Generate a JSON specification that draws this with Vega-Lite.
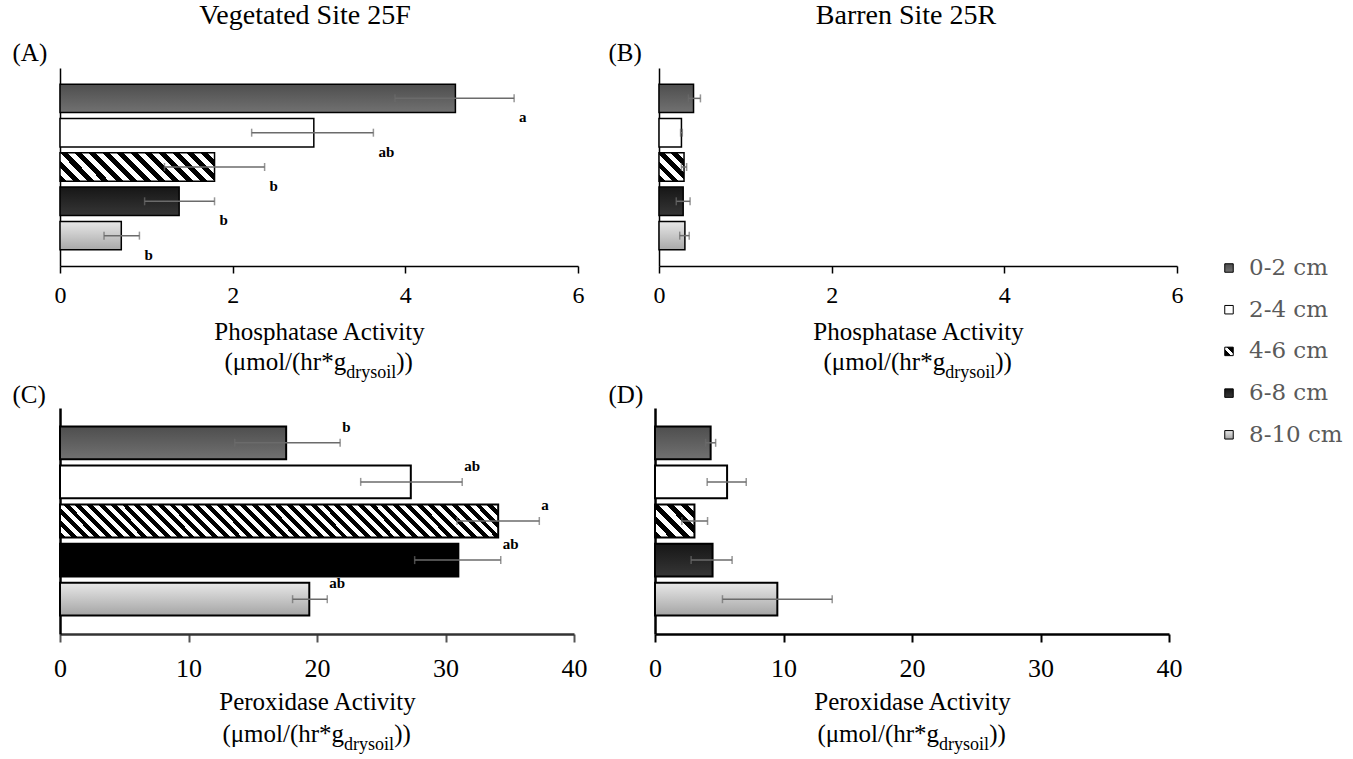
{
  "$schema": "https://vega.github.io/schema/vega-lite/v6.json",
  "padding": {"left": 12, "top": 2, "right": 0, "bottom": 0},
  "background": "white",
  "config": {"view": {"stroke": null}, "axis": {"grid": false}, "font": "Liberation Serif"},
  "datasets": {
    "A": [
      {"depth": "0-2 cm", "value": 4.58, "lo": 3.88, "hi": 5.26, "letter": "a"},
      {"depth": "2-4 cm", "value": 2.94, "lo": 2.22, "hi": 3.63, "letter": "ab"},
      {"depth": "4-6 cm", "value": 1.79, "lo": 1.21, "hi": 2.37, "letter": "b"},
      {"depth": "6-8 cm", "value": 1.38, "lo": 0.98, "hi": 1.79, "letter": "b"},
      {"depth": "8-10 cm", "value": 0.71, "lo": 0.51, "hi": 0.92, "letter": "b"}
    ],
    "B": [
      {"depth": "0-2 cm", "value": 0.40, "lo": 0.34, "hi": 0.48},
      {"depth": "2-4 cm", "value": 0.26, "lo": 0.25, "hi": 0.27},
      {"depth": "4-6 cm", "value": 0.29, "lo": 0.26, "hi": 0.32},
      {"depth": "6-8 cm", "value": 0.28, "lo": 0.20, "hi": 0.36},
      {"depth": "8-10 cm", "value": 0.30, "lo": 0.24, "hi": 0.35}
    ],
    "C": [
      {"depth": "0-2 cm", "value": 17.6, "lo": 13.6, "hi": 21.8, "letter": "b"},
      {"depth": "2-4 cm", "value": 27.3, "lo": 23.4, "hi": 31.3, "letter": "ab"},
      {"depth": "4-6 cm", "value": 34.1, "lo": 30.9, "hi": 37.3, "letter": "a"},
      {"depth": "6-8 cm", "value": 31.0, "lo": 27.6, "hi": 34.3, "letter": "ab"},
      {"depth": "8-10 cm", "value": 19.4, "lo": 18.1, "hi": 20.8, "letter": "ab"}
    ],
    "D": [
      {"depth": "0-2 cm", "value": 4.33, "lo": 3.94, "hi": 4.72},
      {"depth": "2-4 cm", "value": 5.61, "lo": 4.06, "hi": 7.10},
      {"depth": "4-6 cm", "value": 3.07, "lo": 2.09, "hi": 4.09},
      {"depth": "6-8 cm", "value": 4.48, "lo": 2.81, "hi": 6.00},
      {"depth": "8-10 cm", "value": 9.52, "lo": 5.25, "hi": 13.79}
    ],
    "L": [
      {"depth": "0-2 cm", "order": 1}, {"depth": "2-4 cm", "order": 2}, {"depth": "4-6 cm", "order": 3}, {"depth": "6-8 cm", "order": 4}, {"depth": "8-10 cm", "order": 5}
    ]
  },
  "hconcat": [
    {
      "vconcat": [
        {
          "hconcat": [
            {
              "width": 518, "height": 198,
              "data": {"name": "A"},
              "title": {"text": "Vegetated Site 25F", "font": "Liberation Serif", "fontSize": 28, "fontWeight": "normal", "color": "black", "anchor": "middle", "frame": "group", "dx": -14, "offset": 10},
              "encoding": {
                "y": {"field": "depth", "type": "nominal", "sort": ["0-2 cm", "2-4 cm", "4-6 cm", "6-8 cm", "8-10 cm"], "scale": {"paddingInner": 0.17, "paddingOuter": 0.47},
                  "axis": {"title": "(A)", "titleAngle": 0, "titleAlign": "left", "titleBaseline": "middle", "titleX": -48, "titleY": -16, "titleFont": "Liberation Serif", "titleFontSize": 25, "titleFontWeight": "normal", "titleColor": "black", "labels": false, "ticks": false, "domainColor": "black", "domainWidth": 1.5}}
              },
              "layer": [
                {
                  "mark": {"type": "bar", "stroke": "black", "strokeWidth": 1.5},
                  "encoding": {
                    "x": {"field": "value", "type": "quantitative", "title": "Phosphatase Activity", "scale": {"domain": [0, 6], "nice": false},
                      "axis": {"values": [0, 2, 4, 6], "format": "d", "tickSize": 7, "tickWidth": 1.5, "tickColor": "black", "domainColor": "black", "domainWidth": 1.5, "labelFont": "Liberation Serif", "labelFontSize": 24, "labelColor": "black", "labelPadding": 10, "labelFlush": false, "title": "Phosphatase Activity", "titleFont": "Liberation Serif", "titleFontSize": 25, "titleFontWeight": "normal", "titleColor": "black", "titleBaseline": "alphabetic", "titleY": 73}},
                    "fill": {"condition": [
                      {"test": "datum.depth === '0-2 cm'", "value": {"gradient": "linear", "x1": 0, "y1": 0, "x2": 0, "y2": 1, "stops": [{"offset": 0, "color": "#4e4e4e"}, {"offset": 1, "color": "#717171"}]}},
                      {"test": "datum.depth === '4-6 cm'", "value": {"gradient": "linear", "x1": 0, "y1": 1, "x2": 1.1448, "y2": 0.7903, "stops": [
                        {"offset": 0, "color": "#000"}, {"offset": 0.0385, "color": "#000"}, {"offset": 0.0385, "color": "#fff"}, {"offset": 0.0769, "color": "#fff"},
                        {"offset": 0.0769, "color": "#000"}, {"offset": 0.1154, "color": "#000"}, {"offset": 0.1154, "color": "#fff"}, {"offset": 0.1538, "color": "#fff"},
                        {"offset": 0.1538, "color": "#000"}, {"offset": 0.1923, "color": "#000"}, {"offset": 0.1923, "color": "#fff"}, {"offset": 0.2308, "color": "#fff"},
                        {"offset": 0.2308, "color": "#000"}, {"offset": 0.2692, "color": "#000"}, {"offset": 0.2692, "color": "#fff"}, {"offset": 0.3077, "color": "#fff"},
                        {"offset": 0.3077, "color": "#000"}, {"offset": 0.3462, "color": "#000"}, {"offset": 0.3462, "color": "#fff"}, {"offset": 0.3846, "color": "#fff"},
                        {"offset": 0.3846, "color": "#000"}, {"offset": 0.4231, "color": "#000"}, {"offset": 0.4231, "color": "#fff"}, {"offset": 0.4615, "color": "#fff"},
                        {"offset": 0.4615, "color": "#000"}, {"offset": 0.5, "color": "#000"}, {"offset": 0.5, "color": "#fff"}, {"offset": 0.5385, "color": "#fff"},
                        {"offset": 0.5385, "color": "#000"}, {"offset": 0.5769, "color": "#000"}, {"offset": 0.5769, "color": "#fff"}, {"offset": 0.6154, "color": "#fff"},
                        {"offset": 0.6154, "color": "#000"}, {"offset": 0.6538, "color": "#000"}, {"offset": 0.6538, "color": "#fff"}, {"offset": 0.6923, "color": "#fff"},
                        {"offset": 0.6923, "color": "#000"}, {"offset": 0.7308, "color": "#000"}, {"offset": 0.7308, "color": "#fff"}, {"offset": 0.7692, "color": "#fff"},
                        {"offset": 0.7692, "color": "#000"}, {"offset": 0.8077, "color": "#000"}, {"offset": 0.8077, "color": "#fff"}, {"offset": 0.8462, "color": "#fff"},
                        {"offset": 0.8462, "color": "#000"}, {"offset": 0.8846, "color": "#000"}, {"offset": 0.8846, "color": "#fff"}, {"offset": 0.9231, "color": "#fff"},
                        {"offset": 0.9231, "color": "#000"}, {"offset": 0.9615, "color": "#000"}, {"offset": 0.9615, "color": "#fff"}, {"offset": 1, "color": "#fff"}]}},
                      {"test": "datum.depth === '6-8 cm'", "value": {"gradient": "linear", "x1": 0, "y1": 0, "x2": 0, "y2": 1, "stops": [{"offset": 0, "color": "#161616"}, {"offset": 1, "color": "#363636"}]}},
                      {"test": "datum.depth === '8-10 cm'", "value": {"gradient": "linear", "x1": 0, "y1": 0, "x2": 0, "y2": 1, "stops": [{"offset": 0, "color": "#e8e8e8"}, {"offset": 1, "color": "#a8a8a8"}]}}
                    ], "value": "#ffffff"}
                  }
                },
                {
                  "mark": {"type": "errorbar", "color": "#6b6b6b", "thickness": 1.5, "ticks": {"size": 8, "thickness": 1.5, "color": "#6b6b6b"}},
                  "encoding": {"x": {"field": "lo", "type": "quantitative", "title": "Phosphatase Activity", "scale": {"domain": [0, 6], "nice": false}}, "x2": {"field": "hi"}}
                },
                {
                  "mark": {"type": "text", "align": "left", "baseline": "middle", "dx": 5, "dy": 19, "font": "Liberation Serif", "fontSize": 15, "fontWeight": "bold", "color": "black"},
                  "encoding": {"x": {"field": "hi", "type": "quantitative", "title": "Phosphatase Activity"}, "text": {"field": "letter"}}
                },
                {
                  "data": {"values": [{}]},
                  "mark": {"type": "text", "align": "right", "baseline": "alphabetic", "font": "Liberation Serif", "fontSize": 25, "color": "black"},
                  "encoding": {"x": {"datum": 3.315, "type": "quantitative"}, "y": {"value": 302}, "text": {"value": "(μmol/(hr*g"}}
                },
                {
                  "data": {"values": [{}]},
                  "mark": {"type": "text", "align": "left", "baseline": "alphabetic", "font": "Liberation Serif", "fontSize": 18, "dy": 8, "color": "black"},
                  "encoding": {"x": {"datum": 3.315, "type": "quantitative"}, "y": {"value": 302}, "text": {"value": "drysoil"}}
                },
                {
                  "data": {"values": [{}]},
                  "mark": {"type": "text", "align": "left", "baseline": "alphabetic", "font": "Liberation Serif", "fontSize": 25, "color": "black"},
                  "encoding": {"x": {"datum": 3.894, "type": "quantitative"}, "y": {"value": 302}, "text": {"value": "))"}}
                }
              ]
            },
            {
              "width": 518, "height": 198,
              "data": {"name": "B"},
              "title": {"text": "Barren Site 25R", "font": "Liberation Serif", "fontSize": 28, "fontWeight": "normal", "color": "black", "anchor": "middle", "frame": "group", "dx": -12, "offset": 10},
              "encoding": {
                "y": {"field": "depth", "type": "nominal", "sort": ["0-2 cm", "2-4 cm", "4-6 cm", "6-8 cm", "8-10 cm"], "scale": {"paddingInner": 0.17, "paddingOuter": 0.47},
                  "axis": {"title": "(B)", "titleAngle": 0, "titleAlign": "left", "titleBaseline": "middle", "titleX": -51, "titleY": -16, "titleFont": "Liberation Serif", "titleFontSize": 25, "titleFontWeight": "normal", "titleColor": "black", "labels": false, "ticks": false, "domainColor": "black", "domainWidth": 1.5}}
              },
              "layer": [
                {
                  "mark": {"type": "bar", "stroke": "black", "strokeWidth": 1.5},
                  "encoding": {
                    "x": {"field": "value", "type": "quantitative", "title": "Phosphatase Activity", "scale": {"domain": [0, 6], "nice": false},
                      "axis": {"values": [0, 2, 4, 6], "format": "d", "tickSize": 7, "tickWidth": 1.5, "tickColor": "black", "domainColor": "black", "domainWidth": 1.5, "labelFont": "Liberation Serif", "labelFontSize": 24, "labelColor": "black", "labelPadding": 10, "labelFlush": false, "title": "Phosphatase Activity", "titleFont": "Liberation Serif", "titleFontSize": 25, "titleFontWeight": "normal", "titleColor": "black", "titleBaseline": "alphabetic", "titleY": 73}},
                    "fill": {"condition": [
                      {"test": "datum.depth === '0-2 cm'", "value": {"gradient": "linear", "x1": 0, "y1": 0, "x2": 0, "y2": 1, "stops": [{"offset": 0, "color": "#4e4e4e"}, {"offset": 1, "color": "#717171"}]}},
                      {"test": "datum.depth === '4-6 cm'", "value": {"gradient": "linear", "x1": 0, "y1": 1, "x2": 0.9345, "y2": -0.0578, "stops": [
                        {"offset": 0, "color": "#000"}, {"offset": 0.125, "color": "#000"}, {"offset": 0.125, "color": "#fff"}, {"offset": 0.25, "color": "#fff"},
                        {"offset": 0.25, "color": "#000"}, {"offset": 0.375, "color": "#000"}, {"offset": 0.375, "color": "#fff"}, {"offset": 0.5, "color": "#fff"},
                        {"offset": 0.5, "color": "#000"}, {"offset": 0.625, "color": "#000"}, {"offset": 0.625, "color": "#fff"}, {"offset": 0.75, "color": "#fff"},
                        {"offset": 0.75, "color": "#000"}, {"offset": 0.875, "color": "#000"}, {"offset": 0.875, "color": "#fff"}, {"offset": 1, "color": "#fff"}]}},
                      {"test": "datum.depth === '6-8 cm'", "value": {"gradient": "linear", "x1": 0, "y1": 0, "x2": 0, "y2": 1, "stops": [{"offset": 0, "color": "#161616"}, {"offset": 1, "color": "#363636"}]}},
                      {"test": "datum.depth === '8-10 cm'", "value": {"gradient": "linear", "x1": 0, "y1": 0, "x2": 0, "y2": 1, "stops": [{"offset": 0, "color": "#e8e8e8"}, {"offset": 1, "color": "#a8a8a8"}]}}
                    ], "value": "#ffffff"}
                  }
                },
                {
                  "mark": {"type": "errorbar", "color": "#6b6b6b", "thickness": 1.5, "ticks": {"size": 8, "thickness": 1.5, "color": "#6b6b6b"}},
                  "encoding": {"x": {"field": "lo", "type": "quantitative", "title": "Phosphatase Activity", "scale": {"domain": [0, 6], "nice": false}}, "x2": {"field": "hi"}}
                },
                {
                  "data": {"values": [{}]},
                  "mark": {"type": "text", "align": "right", "baseline": "alphabetic", "font": "Liberation Serif", "fontSize": 25, "color": "black"},
                  "encoding": {"x": {"datum": 3.315, "type": "quantitative"}, "y": {"value": 302}, "text": {"value": "(μmol/(hr*g"}}
                },
                {
                  "data": {"values": [{}]},
                  "mark": {"type": "text", "align": "left", "baseline": "alphabetic", "font": "Liberation Serif", "fontSize": 18, "dy": 8, "color": "black"},
                  "encoding": {"x": {"datum": 3.315, "type": "quantitative"}, "y": {"value": 302}, "text": {"value": "drysoil"}}
                },
                {
                  "data": {"values": [{}]},
                  "mark": {"type": "text", "align": "left", "baseline": "alphabetic", "font": "Liberation Serif", "fontSize": 25, "color": "black"},
                  "encoding": {"x": {"datum": 3.894, "type": "quantitative"}, "y": {"value": 302}, "text": {"value": "))"}}
                }
              ]
            }
          ],
          "spacing": 81, "bounds": "flush"
        },
        {
          "hconcat": [
            {
              "width": 514, "height": 226,
              "data": {"name": "C"},
              "encoding": {
                "y": {"field": "depth", "type": "nominal", "sort": ["0-2 cm", "2-4 cm", "4-6 cm", "6-8 cm", "8-10 cm"], "scale": {"paddingInner": 0.16, "paddingOuter": 0.47},
                  "axis": {"title": "(C)", "titleAngle": 0, "titleAlign": "left", "titleBaseline": "middle", "titleX": -48, "titleY": -14, "titleFont": "Liberation Serif", "titleFontSize": 25, "titleFontWeight": "normal", "titleColor": "black", "labels": false, "ticks": false, "domainColor": "black", "domainWidth": 2.5}}
              },
              "layer": [
                {
                  "mark": {"type": "bar", "stroke": "black", "strokeWidth": 2},
                  "encoding": {
                    "x": {"field": "value", "type": "quantitative", "title": "Peroxidase Activity", "scale": {"domain": [0, 40], "nice": false},
                      "axis": {"values": [0, 10, 20, 30, 40], "format": "d", "tickSize": 8, "tickWidth": 2, "tickColor": "#555555", "domainColor": "#333333", "domainWidth": 2.5, "labelFont": "Liberation Serif", "labelFontSize": 26, "labelColor": "black", "labelPadding": 13, "labelFlush": false, "title": "Peroxidase Activity", "titleFont": "Liberation Serif", "titleFontSize": 25, "titleFontWeight": "normal", "titleColor": "black", "titleBaseline": "alphabetic", "titleY": 75}},
                    "fill": {"condition": [
                      {"test": "datum.depth === '0-2 cm'", "value": {"gradient": "linear", "x1": 0, "y1": 0, "x2": 0, "y2": 1, "stops": [{"offset": 0, "color": "#4e4e4e"}, {"offset": 1, "color": "#717171"}]}},
                      {"test": "datum.depth === '4-6 cm'", "value": {"gradient": "linear", "x1": 0, "y1": 1, "x2": 1.0683, "y2": 0.9207, "stops": [
                        {"offset": 0, "color": "#000"}, {"offset": 0.0125, "color": "#000"}, {"offset": 0.0125, "color": "#fff"}, {"offset": 0.025, "color": "#fff"},
                        {"offset": 0.025, "color": "#000"}, {"offset": 0.0375, "color": "#000"}, {"offset": 0.0375, "color": "#fff"}, {"offset": 0.05, "color": "#fff"},
                        {"offset": 0.05, "color": "#000"}, {"offset": 0.0625, "color": "#000"}, {"offset": 0.0625, "color": "#fff"}, {"offset": 0.075, "color": "#fff"},
                        {"offset": 0.075, "color": "#000"}, {"offset": 0.0875, "color": "#000"}, {"offset": 0.0875, "color": "#fff"}, {"offset": 0.1, "color": "#fff"},
                        {"offset": 0.1, "color": "#000"}, {"offset": 0.1125, "color": "#000"}, {"offset": 0.1125, "color": "#fff"}, {"offset": 0.125, "color": "#fff"},
                        {"offset": 0.125, "color": "#000"}, {"offset": 0.1375, "color": "#000"}, {"offset": 0.1375, "color": "#fff"}, {"offset": 0.15, "color": "#fff"},
                        {"offset": 0.15, "color": "#000"}, {"offset": 0.1625, "color": "#000"}, {"offset": 0.1625, "color": "#fff"}, {"offset": 0.175, "color": "#fff"},
                        {"offset": 0.175, "color": "#000"}, {"offset": 0.1875, "color": "#000"}, {"offset": 0.1875, "color": "#fff"}, {"offset": 0.2, "color": "#fff"},
                        {"offset": 0.2, "color": "#000"}, {"offset": 0.2125, "color": "#000"}, {"offset": 0.2125, "color": "#fff"}, {"offset": 0.225, "color": "#fff"},
                        {"offset": 0.225, "color": "#000"}, {"offset": 0.2375, "color": "#000"}, {"offset": 0.2375, "color": "#fff"}, {"offset": 0.25, "color": "#fff"},
                        {"offset": 0.25, "color": "#000"}, {"offset": 0.2625, "color": "#000"}, {"offset": 0.2625, "color": "#fff"}, {"offset": 0.275, "color": "#fff"},
                        {"offset": 0.275, "color": "#000"}, {"offset": 0.2875, "color": "#000"}, {"offset": 0.2875, "color": "#fff"}, {"offset": 0.3, "color": "#fff"},
                        {"offset": 0.3, "color": "#000"}, {"offset": 0.3125, "color": "#000"}, {"offset": 0.3125, "color": "#fff"}, {"offset": 0.325, "color": "#fff"},
                        {"offset": 0.325, "color": "#000"}, {"offset": 0.3375, "color": "#000"}, {"offset": 0.3375, "color": "#fff"}, {"offset": 0.35, "color": "#fff"},
                        {"offset": 0.35, "color": "#000"}, {"offset": 0.3625, "color": "#000"}, {"offset": 0.3625, "color": "#fff"}, {"offset": 0.375, "color": "#fff"},
                        {"offset": 0.375, "color": "#000"}, {"offset": 0.3875, "color": "#000"}, {"offset": 0.3875, "color": "#fff"}, {"offset": 0.4, "color": "#fff"},
                        {"offset": 0.4, "color": "#000"}, {"offset": 0.4125, "color": "#000"}, {"offset": 0.4125, "color": "#fff"}, {"offset": 0.425, "color": "#fff"},
                        {"offset": 0.425, "color": "#000"}, {"offset": 0.4375, "color": "#000"}, {"offset": 0.4375, "color": "#fff"}, {"offset": 0.45, "color": "#fff"},
                        {"offset": 0.45, "color": "#000"}, {"offset": 0.4625, "color": "#000"}, {"offset": 0.4625, "color": "#fff"}, {"offset": 0.475, "color": "#fff"},
                        {"offset": 0.475, "color": "#000"}, {"offset": 0.4875, "color": "#000"}, {"offset": 0.4875, "color": "#fff"}, {"offset": 0.5, "color": "#fff"},
                        {"offset": 0.5, "color": "#000"}, {"offset": 0.5125, "color": "#000"}, {"offset": 0.5125, "color": "#fff"}, {"offset": 0.525, "color": "#fff"},
                        {"offset": 0.525, "color": "#000"}, {"offset": 0.5375, "color": "#000"}, {"offset": 0.5375, "color": "#fff"}, {"offset": 0.55, "color": "#fff"},
                        {"offset": 0.55, "color": "#000"}, {"offset": 0.5625, "color": "#000"}, {"offset": 0.5625, "color": "#fff"}, {"offset": 0.575, "color": "#fff"},
                        {"offset": 0.575, "color": "#000"}, {"offset": 0.5875, "color": "#000"}, {"offset": 0.5875, "color": "#fff"}, {"offset": 0.6, "color": "#fff"},
                        {"offset": 0.6, "color": "#000"}, {"offset": 0.6125, "color": "#000"}, {"offset": 0.6125, "color": "#fff"}, {"offset": 0.625, "color": "#fff"},
                        {"offset": 0.625, "color": "#000"}, {"offset": 0.6375, "color": "#000"}, {"offset": 0.6375, "color": "#fff"}, {"offset": 0.65, "color": "#fff"},
                        {"offset": 0.65, "color": "#000"}, {"offset": 0.6625, "color": "#000"}, {"offset": 0.6625, "color": "#fff"}, {"offset": 0.675, "color": "#fff"},
                        {"offset": 0.675, "color": "#000"}, {"offset": 0.6875, "color": "#000"}, {"offset": 0.6875, "color": "#fff"}, {"offset": 0.7, "color": "#fff"},
                        {"offset": 0.7, "color": "#000"}, {"offset": 0.7125, "color": "#000"}, {"offset": 0.7125, "color": "#fff"}, {"offset": 0.725, "color": "#fff"},
                        {"offset": 0.725, "color": "#000"}, {"offset": 0.7375, "color": "#000"}, {"offset": 0.7375, "color": "#fff"}, {"offset": 0.75, "color": "#fff"},
                        {"offset": 0.75, "color": "#000"}, {"offset": 0.7625, "color": "#000"}, {"offset": 0.7625, "color": "#fff"}, {"offset": 0.775, "color": "#fff"},
                        {"offset": 0.775, "color": "#000"}, {"offset": 0.7875, "color": "#000"}, {"offset": 0.7875, "color": "#fff"}, {"offset": 0.8, "color": "#fff"},
                        {"offset": 0.8, "color": "#000"}, {"offset": 0.8125, "color": "#000"}, {"offset": 0.8125, "color": "#fff"}, {"offset": 0.825, "color": "#fff"},
                        {"offset": 0.825, "color": "#000"}, {"offset": 0.8375, "color": "#000"}, {"offset": 0.8375, "color": "#fff"}, {"offset": 0.85, "color": "#fff"},
                        {"offset": 0.85, "color": "#000"}, {"offset": 0.8625, "color": "#000"}, {"offset": 0.8625, "color": "#fff"}, {"offset": 0.875, "color": "#fff"},
                        {"offset": 0.875, "color": "#000"}, {"offset": 0.8875, "color": "#000"}, {"offset": 0.8875, "color": "#fff"}, {"offset": 0.9, "color": "#fff"},
                        {"offset": 0.9, "color": "#000"}, {"offset": 0.9125, "color": "#000"}, {"offset": 0.9125, "color": "#fff"}, {"offset": 0.925, "color": "#fff"},
                        {"offset": 0.925, "color": "#000"}, {"offset": 0.9375, "color": "#000"}, {"offset": 0.9375, "color": "#fff"}, {"offset": 0.95, "color": "#fff"},
                        {"offset": 0.95, "color": "#000"}, {"offset": 0.9625, "color": "#000"}, {"offset": 0.9625, "color": "#fff"}, {"offset": 0.975, "color": "#fff"},
                        {"offset": 0.975, "color": "#000"}, {"offset": 0.9875, "color": "#000"}, {"offset": 0.9875, "color": "#fff"}, {"offset": 1, "color": "#fff"}]}},
                      {"test": "datum.depth === '6-8 cm'", "value": "#000000"},
                      {"test": "datum.depth === '8-10 cm'", "value": {"gradient": "linear", "x1": 0, "y1": 0, "x2": 0, "y2": 1, "stops": [{"offset": 0, "color": "#e8e8e8"}, {"offset": 1, "color": "#a4a4a4"}]}}
                    ], "value": "#ffffff"}
                  }
                },
                {
                  "mark": {"type": "errorbar", "color": "#6b6b6b", "thickness": 1.5, "ticks": {"size": 8, "thickness": 1.5, "color": "#6b6b6b"}},
                  "encoding": {"x": {"field": "lo", "type": "quantitative", "title": "Peroxidase Activity", "scale": {"domain": [0, 40], "nice": false}}, "x2": {"field": "hi"}}
                },
                {
                  "mark": {"type": "text", "align": "left", "baseline": "middle", "dx": 2, "dy": -16, "font": "Liberation Serif", "fontSize": 15, "fontWeight": "bold", "color": "black"},
                  "encoding": {"x": {"field": "hi", "type": "quantitative", "title": "Peroxidase Activity"}, "text": {"field": "letter"}}
                },
                {
                  "data": {"values": [{}]},
                  "mark": {"type": "text", "align": "right", "baseline": "alphabetic", "font": "Liberation Serif", "fontSize": 25, "color": "black"},
                  "encoding": {"x": {"datum": 22.11, "type": "quantitative"}, "y": {"value": 334}, "text": {"value": "(μmol/(hr*g"}}
                },
                {
                  "data": {"values": [{}]},
                  "mark": {"type": "text", "align": "left", "baseline": "alphabetic", "font": "Liberation Serif", "fontSize": 18, "dy": 8, "color": "black"},
                  "encoding": {"x": {"datum": 22.11, "type": "quantitative"}, "y": {"value": 334}, "text": {"value": "drysoil"}}
                },
                {
                  "data": {"values": [{}]},
                  "mark": {"type": "text", "align": "left", "baseline": "alphabetic", "font": "Liberation Serif", "fontSize": 25, "color": "black"},
                  "encoding": {"x": {"datum": 26.01, "type": "quantitative"}, "y": {"value": 334}, "text": {"value": "))"}}
                }
              ]
            },
            {
              "width": 514, "height": 226,
              "data": {"name": "D"},
              "encoding": {
                "y": {"field": "depth", "type": "nominal", "sort": ["0-2 cm", "2-4 cm", "4-6 cm", "6-8 cm", "8-10 cm"], "scale": {"paddingInner": 0.16, "paddingOuter": 0.47},
                  "axis": {"title": "(D)", "titleAngle": 0, "titleAlign": "left", "titleBaseline": "middle", "titleX": -47, "titleY": -14, "titleFont": "Liberation Serif", "titleFontSize": 25, "titleFontWeight": "normal", "titleColor": "black", "labels": false, "ticks": false, "domainColor": "black", "domainWidth": 2.5}}
              },
              "layer": [
                {
                  "mark": {"type": "bar", "stroke": "black", "strokeWidth": 2},
                  "encoding": {
                    "x": {"field": "value", "type": "quantitative", "title": "Peroxidase Activity", "scale": {"domain": [0, 40], "nice": false},
                      "axis": {"values": [0, 10, 20, 30, 40], "format": "d", "tickSize": 8, "tickWidth": 2, "tickColor": "black", "domainColor": "black", "domainWidth": 2.5, "labelFont": "Liberation Serif", "labelFontSize": 26, "labelColor": "black", "labelPadding": 13, "labelFlush": false, "title": "Peroxidase Activity", "titleFont": "Liberation Serif", "titleFontSize": 25, "titleFontWeight": "normal", "titleColor": "black", "titleBaseline": "alphabetic", "titleY": 75}},
                    "fill": {"condition": [
                      {"test": "datum.depth === '0-2 cm'", "value": {"gradient": "linear", "x1": 0, "y1": 0, "x2": 0, "y2": 1, "stops": [{"offset": 0, "color": "#4e4e4e"}, {"offset": 1, "color": "#717171"}]}},
                      {"test": "datum.depth === '4-6 cm'", "value": {"gradient": "linear", "x1": 0, "y1": 1, "x2": 1.0872, "y2": 0.1055, "stops": [
                        {"offset": 0, "color": "#000"}, {"offset": 0.1, "color": "#000"}, {"offset": 0.1, "color": "#fff"}, {"offset": 0.2, "color": "#fff"},
                        {"offset": 0.2, "color": "#000"}, {"offset": 0.3, "color": "#000"}, {"offset": 0.3, "color": "#fff"}, {"offset": 0.4, "color": "#fff"},
                        {"offset": 0.4, "color": "#000"}, {"offset": 0.5, "color": "#000"}, {"offset": 0.5, "color": "#fff"}, {"offset": 0.6, "color": "#fff"},
                        {"offset": 0.6, "color": "#000"}, {"offset": 0.7, "color": "#000"}, {"offset": 0.7, "color": "#fff"}, {"offset": 0.8, "color": "#fff"},
                        {"offset": 0.8, "color": "#000"}, {"offset": 0.9, "color": "#000"}, {"offset": 0.9, "color": "#fff"}, {"offset": 1, "color": "#fff"}]}},
                      {"test": "datum.depth === '6-8 cm'", "value": {"gradient": "linear", "x1": 0, "y1": 0, "x2": 0, "y2": 1, "stops": [{"offset": 0, "color": "#161616"}, {"offset": 1, "color": "#363636"}]}},
                      {"test": "datum.depth === '8-10 cm'", "value": {"gradient": "linear", "x1": 0, "y1": 0, "x2": 0, "y2": 1, "stops": [{"offset": 0, "color": "#e8e8e8"}, {"offset": 1, "color": "#a4a4a4"}]}}
                    ], "value": "#ffffff"}
                  }
                },
                {
                  "mark": {"type": "errorbar", "color": "#6b6b6b", "thickness": 1.5, "ticks": {"size": 8, "thickness": 1.5, "color": "#6b6b6b"}},
                  "encoding": {"x": {"field": "lo", "type": "quantitative", "title": "Peroxidase Activity", "scale": {"domain": [0, 40], "nice": false}}, "x2": {"field": "hi"}}
                },
                {
                  "data": {"values": [{}]},
                  "mark": {"type": "text", "align": "right", "baseline": "alphabetic", "font": "Liberation Serif", "fontSize": 25, "color": "black"},
                  "encoding": {"x": {"datum": 22.11, "type": "quantitative"}, "y": {"value": 334}, "text": {"value": "(μmol/(hr*g"}}
                },
                {
                  "data": {"values": [{}]},
                  "mark": {"type": "text", "align": "left", "baseline": "alphabetic", "font": "Liberation Serif", "fontSize": 18, "dy": 8, "color": "black"},
                  "encoding": {"x": {"datum": 22.11, "type": "quantitative"}, "y": {"value": 334}, "text": {"value": "drysoil"}}
                },
                {
                  "data": {"values": [{}]},
                  "mark": {"type": "text", "align": "left", "baseline": "alphabetic", "font": "Liberation Serif", "fontSize": 25, "color": "black"},
                  "encoding": {"x": {"datum": 26.01, "type": "quantitative"}, "y": {"value": 334}, "text": {"value": "))"}}
                }
              ]
            }
          ],
          "spacing": 81, "bounds": "flush"
        }
      ],
      "spacing": 0
    },
    {
      "width": 10, "height": 400,
      "data": {"name": "L"},
      "encoding": {
        "y": {"field": "order", "type": "quantitative", "scale": {"domain": [-3.796, 5.796], "reverse": true, "nice": false, "zero": false}, "axis": null}
      },
      "layer": [
        {
          "mark": {"type": "point", "shape": "square", "size": 72, "filled": true, "stroke": "black", "strokeWidth": 1, "opacity": 1},
          "encoding": {
            "fill": {"condition": [
              {"test": "datum.depth === '0-2 cm'", "value": {"gradient": "linear", "x1": 0, "y1": 0, "x2": 0, "y2": 1, "stops": [{"offset": 0, "color": "#4e4e4e"}, {"offset": 1, "color": "#717171"}]}},
              {"test": "datum.depth === '4-6 cm'", "value": {"gradient": "linear", "x1": 0, "y1": 1, "x2": 1, "y2": 0, "stops": [{"offset": 0, "color": "#000"}, {"offset": 0.36, "color": "#000"}, {"offset": 0.36, "color": "#fff"}, {"offset": 0.64, "color": "#fff"}, {"offset": 0.64, "color": "#000"}, {"offset": 1, "color": "#000"}]}},
              {"test": "datum.depth === '6-8 cm'", "value": {"gradient": "linear", "x1": 0, "y1": 0, "x2": 0, "y2": 1, "stops": [{"offset": 0, "color": "#161616"}, {"offset": 1, "color": "#363636"}]}},
              {"test": "datum.depth === '8-10 cm'", "value": {"gradient": "linear", "x1": 0, "y1": 0, "x2": 0, "y2": 1, "stops": [{"offset": 0, "color": "#e8e8e8"}, {"offset": 1, "color": "#a4a4a4"}]}}
            ], "value": "#ffffff"}
          }
        },
        {
          "mark": {"type": "text", "align": "left", "baseline": "middle", "dx": 20, "font": "DejaVu Serif", "fontSize": 23, "color": "#5a5a5a"},
          "encoding": {"text": {"field": "depth"}}
        }
      ]
    }
  ],
  "spacing": 39
}
